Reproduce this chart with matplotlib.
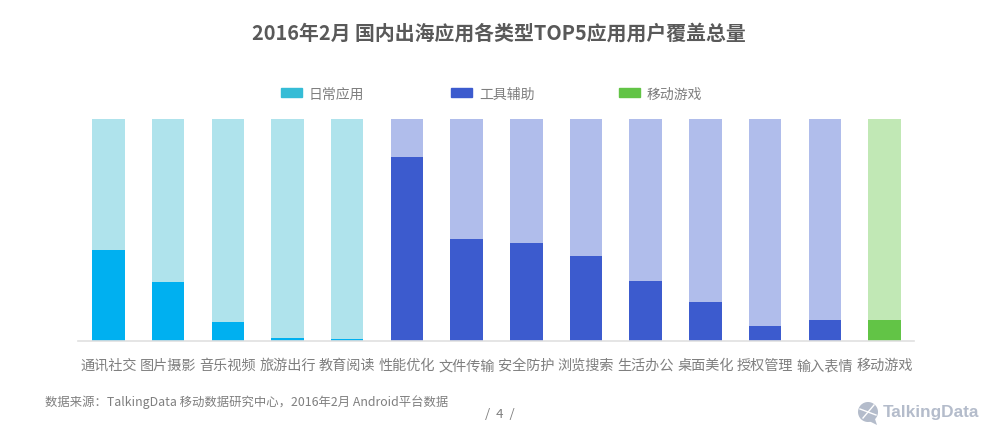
import numpy as np
import matplotlib
matplotlib.use('Agg')
import matplotlib.pyplot as plt
from matplotlib.patches import Circle, Polygon, Rectangle

plt.rcParams['font.family'] = ['Noto Sans CJK SC', 'DejaVu Sans']

# 数据
categories = ['通讯社交', '图片摄影', '音乐视频', '旅游出行', '教育阅读',
              '性能优化', '文件传输', '安全防护', '浏览搜索', '生活办公',
              '桌面美化', '授权管理', '输入表情', '移动游戏']
values = [41.0, 26.6, 8.6, 1.4, 0.7, 82.9, 46.0, 44.1, 38.3, 27.0, 17.6, 6.8, 9.5, 9.5]
groups = ['日常', '日常', '日常', '日常', '日常', '工具', '工具', '工具', '工具', '工具',
          '工具', '工具', '工具', '游戏']
legend_labels = ['日常应用', '工具辅助', '移动游戏']

dark = {'日常': '#00b0f0', '工具': '#3c5bce', '游戏': '#62c446'}
light = {'日常': '#afe3ec', '工具': '#b0bdeb', '游戏': '#c1e8b5'}
legend_colors = ['#35bcd6', '#3c5bce', '#62c446']

W, H = 1000, 441
fig = plt.figure(figsize=(W / 100, H / 100), dpi=100)

# 坐标轴：x 78-914 像素，y 119-341 像素
ax = fig.add_axes([78 / W, 1 - 341 / H, 836 / W, 222 / H])
x = np.arange(len(categories))
ax.bar(x, [100] * len(x), width=0.545, color=[light[g] for g in groups])
ax.bar(x, values, width=0.545, color=[dark[g] for g in groups])

# 第一根柱中心 108.4 像素，间距 59.7 像素
ax.set_xlim((78 - 108.4) / 59.7, (914 - 108.4) / 59.7)
ax.set_ylim(0, 100)
ax.set_yticks([])
ax.set_xticks(x)
ax.set_xticklabels(categories, fontsize=10.2, color='#7f7f7f')
ax.tick_params(axis='x', length=0, pad=13)
for s in ['top', 'left', 'right']:
    ax.spines[s].set_visible(False)
ax.spines['bottom'].set_color('#e0e0e0')
ax.spines['bottom'].set_linewidth(1.2)

fig.text(499 / W, 1 - 33 / H, '2016年2月 国内出海应用各类型TOP5应用用户覆盖总量',
         fontsize=14.3, fontweight='bold', color='#595959', ha='center', va='center')

# 图例
for lx, c, lab in zip([281, 451, 619], legend_colors, legend_labels):
    fig.patches.append(Rectangle((lx / W, 1 - 97 / H), 21 / W, 9 / H, color=c,
                                 transform=fig.transFigure))
    fig.text((lx + 28) / W, 1 - 94.5 / H, lab, fontsize=10, color='#7f7f7f', va='center')

fig.text(45 / W, 1 - 402 / H, '数据来源：TalkingData 移动数据研究中心，2016年2月 Android平台数据',
         fontsize=8.9, color='#7f7f7f', va='center')
fig.text(500 / W, 1 - 415 / H, '/  4  /', fontsize=9.5, color='#7f7f7f', ha='center', va='center')

# 右下角标志
logo = fig.add_axes([0, 0, 1, 1], facecolor='none')
logo.set_xlim(0, W)
logo.set_ylim(H, 0)
logo.axis('off')
logo.add_patch(Circle((868, 412), 10, color='#b4bccb', lw=0))
logo.add_patch(Polygon([[865, 419], [875, 419], [877, 425]], color='#b4bccb', lw=0))
logo.plot([860, 876], [409, 415], color='white', lw=1)
logo.plot([863, 874], [418, 405], color='white', lw=1)
logo.text(883, 413, 'TalkingData', fontsize=12.4, fontweight='bold', color='#b4bccb',
          family=['Liberation Sans Narrow', 'Liberation Sans'], va='center')

fig.savefig('out.png', dpi=100)
